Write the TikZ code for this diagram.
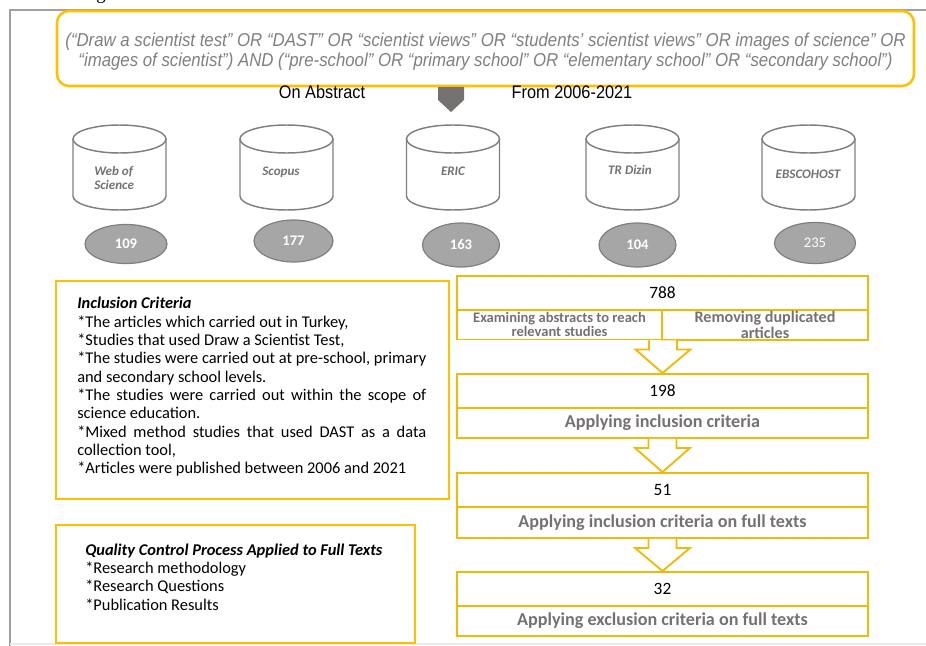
\documentclass[tikz,border=0pt]{standalone}
\usepackage{fontspec}
\setmainfont{Carlito}
\newfontfamily\arialn[FakeStretch=0.9]{Liberation Sans}
\newfontfamily\serifx{Liberation Serif}
\usetikzlibrary{shapes.geometric,calc}
\definecolor{gold}{HTML}{FFC000}
\definecolor{goldb}{HTML}{F2B80A}
\definecolor{cylgray}{HTML}{7F7F7F}
\definecolor{ellfill}{HTML}{A6A6A6}
\definecolor{txtgray}{HTML}{767171}
\definecolor{qgray}{HTML}{808080}
\definecolor{arrgray}{HTML}{767171}
\definecolor{framegray}{HTML}{A0A0A0}
\tikzset{
  ybox/.style={draw=gold, line width=1.5pt, fill=white, inner sep=0pt},
  flowtop/.style={draw=goldb, line width=1.4pt, inner sep=0pt, minimum width=411*0.75pt, minimum height=34*0.75pt, font=\fontsize{13}{15}\selectfont},
  flowbot/.style={draw=goldb, line width=1.4pt, inner sep=0pt, minimum width=411*0.75pt, minimum height=30*0.75pt, text=txtgray, font=\bfseries\fontsize{13.6}{15}\selectfont},
  flowsub/.style={draw=goldb, line width=1.4pt, inner sep=0pt, minimum height=30*0.75pt, text=txtgray, align=center},
  harrow/.style={draw=goldb, line width=1.4pt, fill=white, line join=miter},
  cyl/.style={draw=cylgray, line width=1.1pt},
  cyllabel/.style={text=txtgray, font=\bfseries\itshape\fontsize{9.8}{10.5}\selectfont, inner sep=0pt},
  numell/.style={ellipse, draw=cylgray, line width=0.9pt, fill=ellfill, inner sep=0pt, text=white, font=\bfseries\fontsize{11}{12}\selectfont},
  plain/.style={inner sep=0pt},
}
\begin{document}
\begin{tikzpicture}[x=0.75pt,y=-0.75pt]
\useasboundingbox (0,0) rectangle (926,646);
\clip (0,0) rectangle (926,646);
% frame
\node[plain, font=\serifx\fontsize{14}{16}\selectfont, anchor=base] (capg) at (101,-1) {g};
\draw[framegray, line width=1.2pt] (926,10) -- (10,10) -- (10,646);
\draw[black!8, line width=0.8pt] (10,644) -- (926,644);
% query
\node[ybox, rounded corners=9pt, line width=1.9pt, minimum width=857*0.75pt, minimum height=75*0.75pt] (query) at (485.5,48.5) {};
\node[plain, text=qgray, align=center, font=\arialn\itshape\fontsize{14}{15}\selectfont] (qtext) at (485.5,52)
 {(“Draw a scientist test” OR “DAST” OR “scientist views” OR “students’ scientist views” OR images of science” OR\\
  “images of scientist”) AND (“pre-school” OR “primary school” OR “elementary school” OR “secondary school”)};
\node[plain, font=\arialn\fontsize{13.6}{14}\selectfont] (onabs) at (322,92) {On Abstract};
\node[plain, font=\arialn\fontsize{13.6}{14}\selectfont] (from) at (572,92) {From 2006-2021};
\draw[fill=arrgray, draw=none] (438,87) -- (464,87) -- (464,100) -- (451,112) -- (438,100) -- cycle;
% cylinders
\foreach \cx in {119.5,286.5,453,632.5,808.5}{
  \draw[cyl] (\cx,139) ellipse [x radius=46.5, y radius=14];
  \draw[cyl] (\cx-46.5,139) -- (\cx-46.5,196) arc[start angle=180, end angle=0, x radius=46.5, y radius=14] -- (\cx+46.5,139);
}
\node[cyllabel, align=left, anchor=west, font=\bfseries\itshape\fontsize{9.8}{10.5}\selectfont] (wos) at (94,177.5) {Web of\\Science};
\node[cyllabel] (scopus) at (281,172) {Scopus};
\node[cyllabel] (eric) at (453,171) {ERIC};
\node[cyllabel] (trd) at (630,170) {TR Dizin};
\node[cyllabel] (ebsco) at (808,174) {EBSCOHOST};
% counts
\node[numell, minimum width=82*0.75pt, minimum height=39*0.75pt] (n1) at (126,244) {109};
\node[numell, minimum width=79*0.75pt, minimum height=42*0.75pt] (n2) at (293.5,241) {177};
\node[numell, minimum width=77*0.75pt, minimum height=44*0.75pt] (n3) at (461,245) {163};
\node[numell, minimum width=77*0.75pt, minimum height=44*0.75pt] (n4) at (637.5,245) {104};
\node[numell, minimum width=81*0.75pt, minimum height=41*0.75pt, font=\fontsize{11}{12}\selectfont] (n5) at (815,243) {235};
% inclusion criteria
\node[ybox, minimum width=393*0.75pt, minimum height=218*0.75pt] (inc) at (252.5,390) {};
\node[plain, anchor=north west, text width=349*0.75pt, align=justify, font=\fontsize{12.3}{13.75}\selectfont] (inctext) at (77,297)
 {{\bfseries\itshape Inclusion Criteria}\par
  *The articles which carried out in Turkey,\par
  *Studies that used Draw a Scientist Test,\par
  *The studies were carried out at pre-school, primary\linebreak and secondary school levels.\par
  *The studies were carried out within the scope of\linebreak science education.\par
  *Mixed method studies that used DAST as a data\linebreak collection tool,\par
  *Articles were published between 2006 and 2021\par};
% quality
\node[ybox, minimum width=359*0.75pt, minimum height=118*0.75pt] (qual) at (235.5,584) {};
\node[plain, anchor=north west, align=left, font=\fontsize{12.3}{13.7}\selectfont] (qualtext) at (85,543.5)
 {{\bfseries\itshape Quality Control Process Applied to Full Texts}\\
  *Research methodology\\
  *Research Questions\\
  *Publication Results};
% flow
\node[flowtop] (b1t) at (662.5,293) {788};
\node[flowsub, minimum width=205*0.75pt, font=\bfseries\fontsize{10.9}{10.5}\selectfont] (b1l) at (559.5,324.5) {Examining abstracts to reach\\relevant studies};
\node[flowsub, minimum width=206*0.75pt, font=\bfseries\fontsize{12.1}{12}\selectfont] (b1r) at (765,325) {Removing duplicated\\articles};
\node[flowtop] (b2t) at (662.5,391) {198};
\node[flowbot] (b2b) at (662.5,423) {Applying inclusion criteria};
\node[flowtop] (b3t) at (662.5,490) {51};
\node[flowbot, minimum height=31*0.75pt] (b3b) at (662.5,522.5) {Applying inclusion criteria on full texts};
\node[flowtop] (b4t) at (662.5,589) {32};
\node[flowbot] (b4b) at (662.5,621) {Applying exclusion criteria on full texts};
% hollow arrows
\foreach \a/\b in {b1l.south east/b2t.north, b2b.south/b3t.north, b3b.south/b4t.north}{
  \draw[harrow] ($(\a)+(-14,0)$) -- ($(\a)+(-14,9)$) -- ($(\a)+(-27.5,9)$) -- (\b) -- ($(\a)+(27.5,9)$) -- ($(\a)+(14,9)$) -- ($(\a)+(14,0)$);
}
\end{tikzpicture}
\end{document}
